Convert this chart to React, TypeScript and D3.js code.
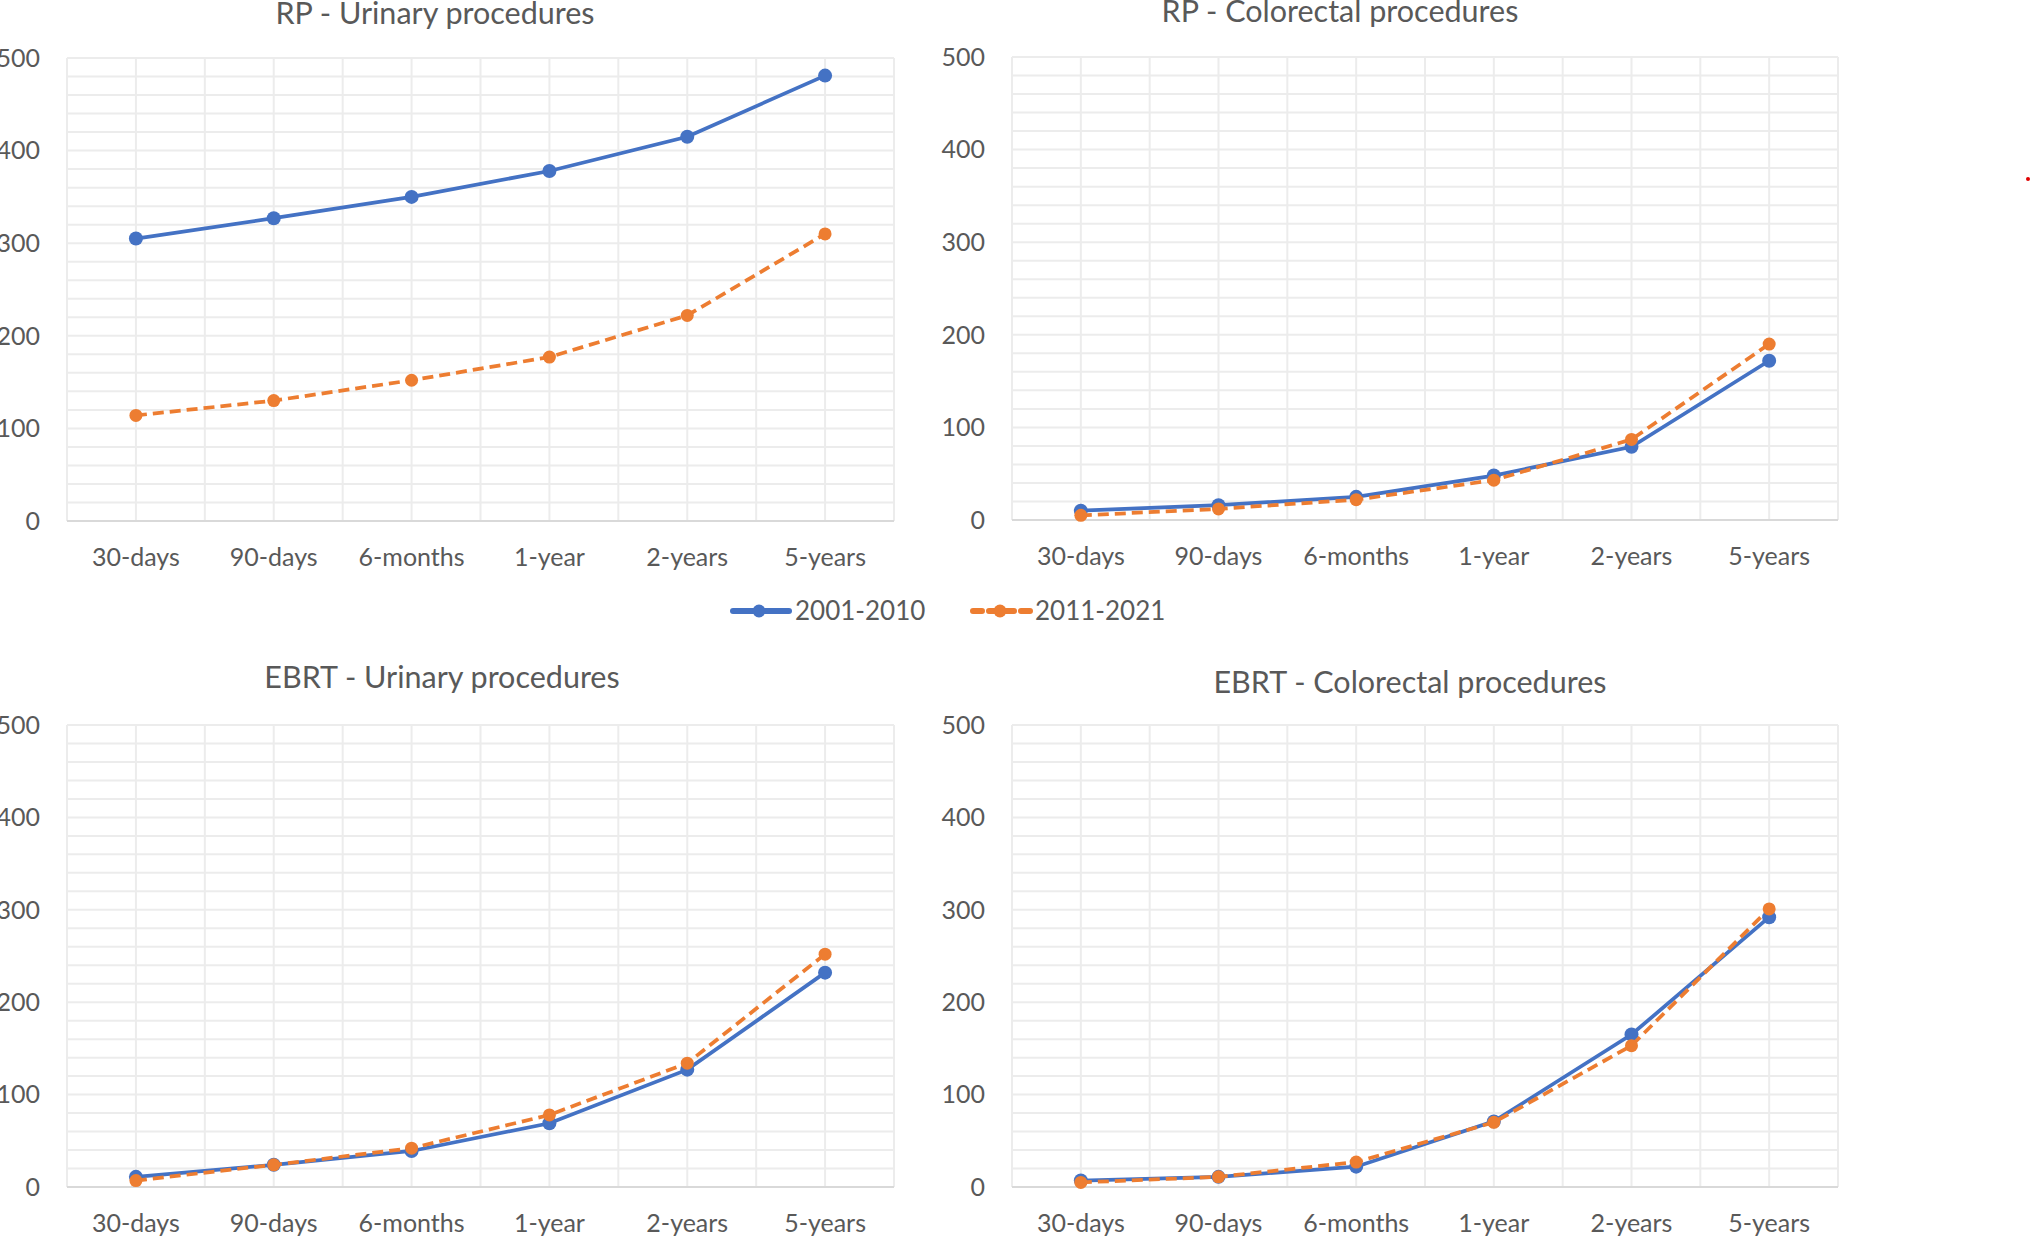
import React from 'react';
import * as d3 from 'd3';

const periods = ['30-days', '90-days', '6-months', '1-year', '2-years', '5-years'];
const seriesNames = ['2001-2010', '2011-2021'];
const yTicks = [0, 100, 200, 300, 400, 500];

// values, one array per panel and cohort
const rpUrinary2001 = [305, 327, 350, 378, 415, 481];
const rpUrinary2011 = [114, 130, 152, 177, 222, 310];
const rpColorectal2001 = [10, 16, 25, 48, 79, 172];
const rpColorectal2011 = [5, 12, 22, 43, 87, 190];
const ebrtUrinary2001 = [11, 24, 39, 69, 127, 232];
const ebrtUrinary2011 = [7, 24, 42, 78, 134, 252];
const ebrtColorectal2001 = [7, 11, 22, 71, 165, 292];
const ebrtColorectal2011 = [5, 11, 27, 70, 153, 301];

const BLUE = '#4472C4';
const ORANGE = '#ED7D31';
const TEXT = '#595959';
const GRID = '#ececec';
const FONT = "Lato, 'Open Sans', sans-serif";

interface PanelProps {
  title: string;
  a: number[];
  b: number[];
  x0: number;
  x1: number;
  y0: number;
  y1: number;
  titleX: number;
  titleY: number;
}

const Panel: React.FC<PanelProps> = ({ title, a, b, x0, x1, y0, y1, titleX, titleY }) => {
  const x = d3.scaleBand<string>().domain(periods).range([x0, x1]);
  const y = d3.scaleLinear().domain([0, 500]).range([y1, y0]);
  const bw = x.bandwidth();
  const cx = (p: string) => (x(p) ?? 0) + bw / 2;

  const vLines: number[] = [];
  periods.forEach(p => {
    vLines.push(x(p) ?? 0);
    vLines.push(cx(p));
  });
  vLines.push(x1);

  const line = d3.line<number>()
    .x((_, i) => cx(periods[i]))
    .y(d => y(d));

  return (
    <g>
      {d3.range(0, 501, 20).map(v => (
        <line key={'h' + v} x1={x0} x2={x1} y1={y(v)} y2={y(v)} stroke={GRID} strokeWidth={2} />
      ))}
      {vLines.map((vx, i) => (
        <line key={'v' + i} x1={vx} x2={vx} y1={y0} y2={y1} stroke={GRID} strokeWidth={2} />
      ))}
      <line x1={x0} x2={x1} y1={y1} y2={y1} stroke="#d9d9d9" strokeWidth={2} />
      {yTicks.map(t => (
        <text key={'y' + t} x={x0 - 27} y={y(t)} dy="0.35em" textAnchor="end"
          fontSize={25} fill={TEXT} fontFamily={FONT}>{t}</text>
      ))}
      {periods.map(p => (
        <text key={'x' + p} x={cx(p)} y={y1 + 45} textAnchor="middle"
          fontSize={25} fill={TEXT} fontFamily={FONT}>{p}</text>
      ))}
      <text x={titleX} y={titleY} textAnchor="middle" fontSize={30.5} fill={TEXT} fontFamily={FONT}>{title}</text>

      <path d={line(a) ?? ''} fill="none" stroke={BLUE} strokeWidth={3.75} />
      {a.map((v, i) => (
        <circle key={'a' + i} cx={cx(periods[i])} cy={y(v)} r={7} fill={BLUE} />
      ))}
      <path d={line(b) ?? ''} fill="none" stroke={ORANGE} strokeWidth={3.75} strokeDasharray="11,6" />
      {b.map((v, i) => (
        <circle key={'b' + i} cx={cx(periods[i])} cy={y(v)} r={6.5} fill={ORANGE} />
      ))}
    </g>
  );
};

export default function App() {
  const legendY = 611;
  return (
    <svg width={2032} height={1239} style={{ position: 'absolute', left: 0, top: 0, background: '#fff' }}>
      <rect width={2032} height={1239} fill="#fff" />
      <Panel title="RP - Urinary procedures" a={rpUrinary2001} b={rpUrinary2011}
        x0={67} x1={894} y0={58} y1={521} titleX={435} titleY={24} />
      <Panel title="RP - Colorectal procedures" a={rpColorectal2001} b={rpColorectal2011}
        x0={1012} x1={1838} y0={57} y1={520} titleX={1340} titleY={22} />
      <Panel title="EBRT - Urinary procedures" a={ebrtUrinary2001} b={ebrtUrinary2011}
        x0={67} x1={894} y0={725} y1={1187} titleX={442} titleY={688} />
      <Panel title="EBRT - Colorectal procedures" a={ebrtColorectal2001} b={ebrtColorectal2011}
        x0={1012} x1={1838} y0={725} y1={1187} titleX={1410} titleY={693} />

      <g>
        <line x1={733} x2={789} y1={legendY} y2={legendY} stroke={BLUE} strokeWidth={6} strokeLinecap="round" />
        <circle cx={759} cy={legendY} r={6.5} fill={BLUE} />
        <text x={795} y={legendY} dy="0.36em" fontSize={26} fill={TEXT} fontFamily={FONT}>{seriesNames[0]}</text>
        <line x1={973} x2={1031} y1={legendY} y2={legendY} stroke={ORANGE} strokeWidth={6}
          strokeDasharray="9,7" strokeLinecap="round" />
        <circle cx={1000} cy={legendY} r={6.5} fill={ORANGE} />
        <text x={1035} y={legendY} dy="0.36em" fontSize={26} fill={TEXT} fontFamily={FONT}>{seriesNames[1]}</text>
      </g>

      <circle cx={2028} cy={179} r={2} fill="#e00000" />
    </svg>
  );
}
